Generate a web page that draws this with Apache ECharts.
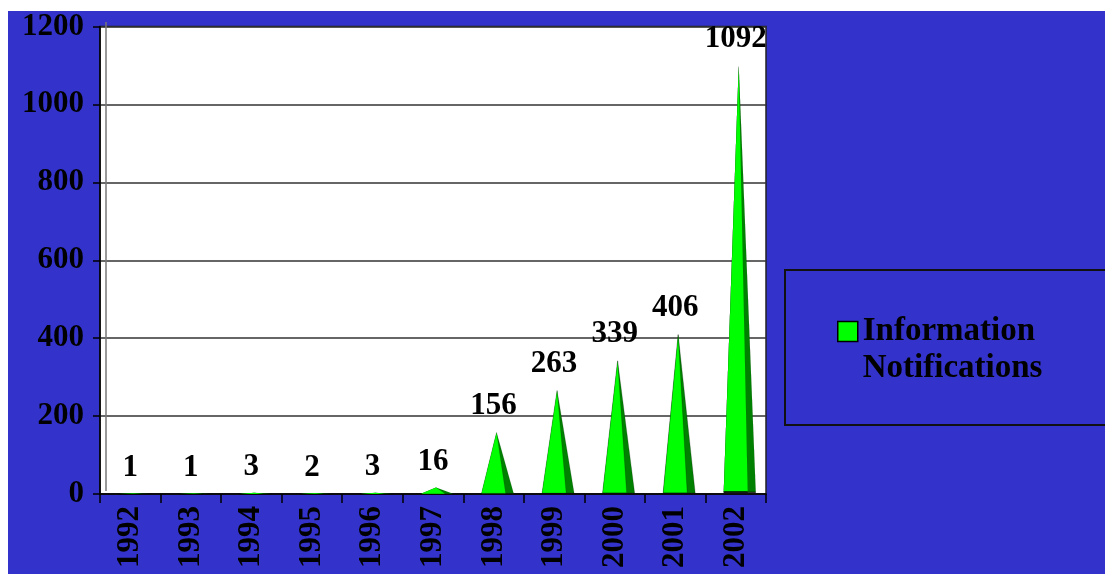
<!DOCTYPE html>
<html>
<head>
<meta charset="utf-8">
<script src="https://cdn.jsdelivr.net/npm/echarts@6/dist/echarts.min.js"></script>
<style>
  html, body { margin: 0; padding: 0; background: #ffffff; }
  #chart { position: absolute; left: 8px; top: 11px; width: 1097px; height: 563px; background: #3333cc; }
</style>
</head>
<body>
<div id="chart"></div>
<script>
const years = ['1992','1993','1994','1995','1996','1997','1998','1999','2000','2001','2002'];
const notifications = [1, 1, 3, 2, 3, 16, 156, 263, 339, 406, 1092];
const yTicks = { min: 0, max: 1200, interval: 200 };
const seriesName = 'Information Notifications';

const FONT = 'Liberation Serif';
const chart = echarts.init(document.getElementById('chart'));

const option = {
  animation: false,
  backgroundColor: '#3333cc',
  grid: {
    left: 92, top: 11, right: 339, bottom: 80,
    show: true, backgroundColor: '#ffffff', borderColor: '#222', borderWidth: 1.5
  },
  legend: {
    show: true,
    left: 829, top: 302, padding: 0,
    itemWidth: 20, itemHeight: 57,
    icon: 'path://M0,0 L20,0 L20,20 L0,20 Z M0,57',
    formatter: function () { return 'Information\nNotifications'; },
    textStyle: { fontFamily: FONT, fontWeight: 'bold', fontSize: 33, color: '#000', lineHeight: 37 },
    data: [{ name: seriesName, itemStyle: { color: '#00ff00', borderColor: '#000', borderWidth: 1.5 } }]
  },
  graphic: [
    { type: 'rect', left: 776, top: 258, shape: { width: 340, height: 155 },
      style: { fill: 'transparent', stroke: '#111', lineWidth: 2 }, silent: true, z: -1 },
    { type: 'line', shape: { x1: 98, y1: 11, x2: 98, y2: 480 },
      style: { stroke: '#777', lineWidth: 1.5 }, silent: true, z: 10 }
  ],
  xAxis: {
    type: 'category',
    data: years,
    axisLine: { lineStyle: { color: '#000', width: 1.5 } },
    axisTick: { show: true, length: 9, lineStyle: { color: '#000', width: 1.5 } },
    axisLabel: { rotate: 90, margin: 12, fontFamily: FONT, fontWeight: 'bold', fontSize: 31, color: '#000' }
  },
  yAxis: {
    type: 'value',
    min: yTicks.min, max: yTicks.max, interval: yTicks.interval,
    axisLine: { show: true, lineStyle: { color: '#000', width: 1.5 } },
    axisTick: { show: true, length: 7, lineStyle: { color: '#000', width: 1.5 } },
    axisLabel: { margin: 16, fontFamily: FONT, fontWeight: 'bold', fontSize: 31, color: '#000',
      formatter: function (v) { return String(v); } },
    splitLine: { show: true, lineStyle: { color: '#333', width: 1.5 } }
  },
  series: [
    {
      name: seriesName + ' shade',
      type: 'pictorialBar',
      data: notifications,
      symbol: 'path://M0,100 L15,0 L32,100 Z',
      symbolSize: [32, '100%'],
      symbolOffset: [4, 0],
      barGap: '-100%',
      itemStyle: { color: '#008000', borderColor: '#000', borderWidth: 1 },
      z: 2,
      legendHoverLink: false
    },
    {
      name: seriesName,
      type: 'pictorialBar',
      data: notifications,
      symbol: 'path://M0,100 L15,0 L24,100 Z',
      symbolSize: [24, '100%'],
      symbolOffset: [0, 0],
      barGap: '-100%',
      itemStyle: { color: '#00ff00', borderColor: '#000', borderWidth: 1 },
      label: {
        show: true, position: 'top', distance: 10,
        fontFamily: FONT, fontWeight: 'bold', fontSize: 31, color: '#000'
      },
      z: 3
    }
  ]
};
chart.setOption(option);
</script>
</body>
</html>
